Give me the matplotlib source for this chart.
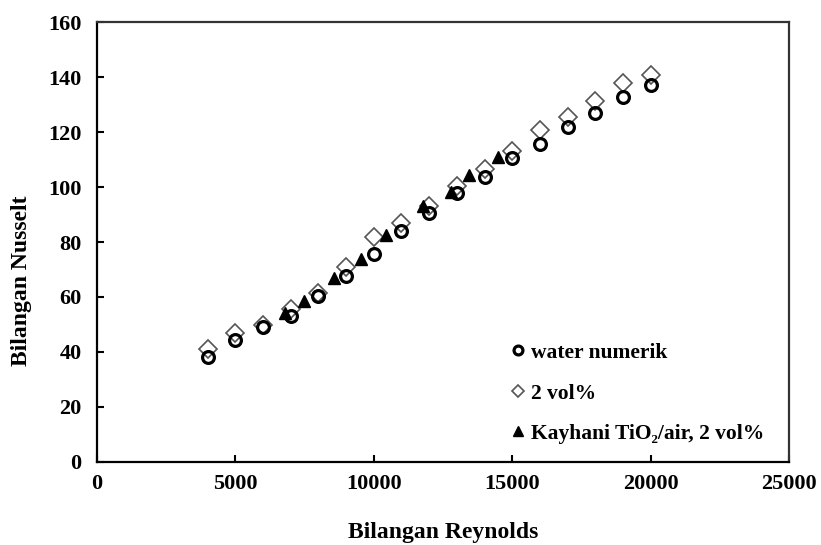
import matplotlib
matplotlib.use("Agg")
import matplotlib.pyplot as plt

# Nusselt number vs Reynolds number
re_sim = [4000, 5000, 6000, 7000, 8000, 9000, 10000, 11000, 12000, 13000,
          14000, 15000, 16000, 17000, 18000, 19000, 20000]
nu_water = [38.0, 44.3, 48.9, 53.2, 60.2, 67.5, 75.8, 84.2, 90.6, 97.7,
            103.8, 110.5, 115.8, 121.9, 127.0, 132.7, 137.3]
nu_2vol = [41.0, 47.0, 49.9, 55.5, 61.5, 71.0, 82.0, 87.0, 93.0, 100.5,
           106.5, 113.3, 120.7, 125.5, 131.2, 137.8, 140.8]

re_kayhani = [6800, 7500, 8550, 9530, 10450, 11780, 12780, 13430, 14500]
nu_kayhani = [54.0, 58.5, 67.0, 74.0, 82.5, 93.3, 98.3, 104.4, 111.0]

plt.rcParams["font.family"] = ["Liberation Serif", "DejaVu Serif"]
plt.rcParams["font.weight"] = "bold"

fig = plt.figure(figsize=(8.21, 5.45), dpi=100)
ax = fig.add_axes([0.1178, 0.1528, 0.8436, 0.8062])

ax.plot(re_sim, nu_2vol, linestyle="none", marker="D", markersize=9,
        markerfacecolor="white", markeredgecolor="#555555", markeredgewidth=1.2,
        label="2 vol%", zorder=3)
ax.plot(re_sim, nu_water, linestyle="none", marker="o", markersize=8.5,
        markerfacecolor="none", markeredgecolor="black", markeredgewidth=2.3,
        label="water numerik", zorder=4)
ax.plot(re_kayhani, nu_kayhani, linestyle="none", marker="^", markersize=9,
        markerfacecolor="black", markeredgecolor="black",
        label="Kayhani TiO₂/air, 2 vol%", zorder=5)

ax.set_xlim(0, 25000)
ax.set_ylim(0, 160)
ax.set_xticks(range(0, 25001, 5000))
ax.set_yticks(range(0, 161, 20))

for side in ["left", "bottom", "top", "right"]:
    ax.spines[side].set_linewidth(1.6)
ax.spines["top"].set_color("#333333")
ax.spines["right"].set_color("#333333")

ax.tick_params(direction="in", length=5, width=1.5, labelsize=16,
               top=False, right=False)
ax.tick_params(axis="y", pad=11)
ax.tick_params(axis="x", pad=9)

ax.set_xlabel("Bilangan Reynolds", fontsize=17, fontweight="bold", labelpad=20)
ax.set_ylabel("Bilangan Nusselt", fontsize=17, fontweight="bold")
ax.yaxis.set_label_coords(-0.094, 0.413)

handles, labels = ax.get_legend_handles_labels()
order = [1, 0, 2]
leg = ax.legend([handles[i] for i in order], [labels[i] for i in order],
                loc="upper left", bbox_to_anchor=(0.586, 0.29), frameon=False,
                fontsize=15.5, handlelength=0.6, handletextpad=0.3,
                labelspacing=0.95, markerscale=0.75, borderaxespad=0)
# smaller diamond in the key
leg.legend_handles[1].set_markersize(6.5)

fig.savefig("out.png", dpi=100)
